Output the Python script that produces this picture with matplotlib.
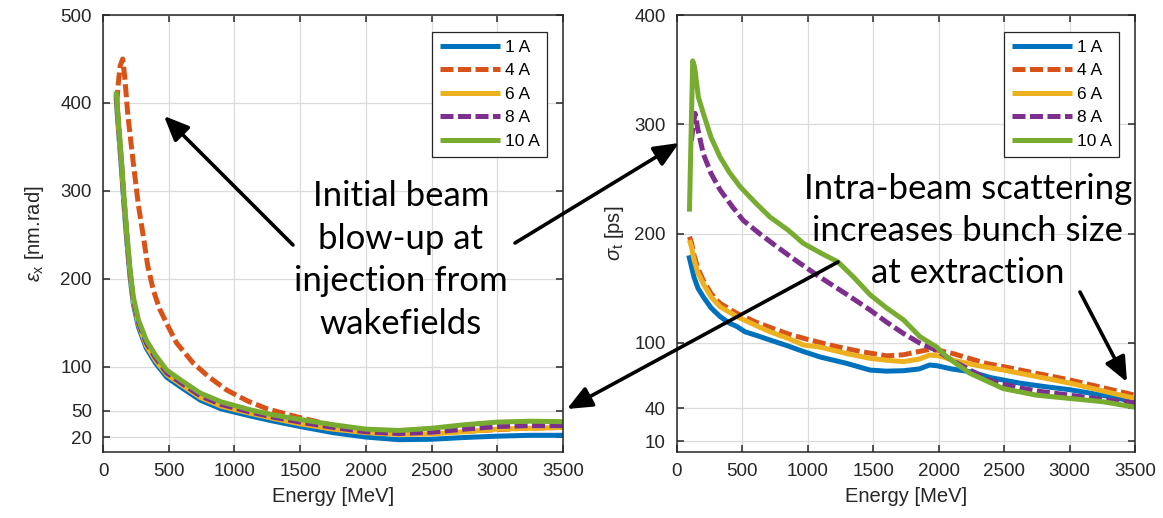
import matplotlib
matplotlib.use("Agg")
import matplotlib.pyplot as plt
from matplotlib.patches import FancyArrowPatch, ArrowStyle

plt.rcParams['font.family'] = ['Liberation Sans', 'DejaVu Sans']
plt.rcParams['mathtext.fontset'] = 'custom'
plt.rcParams['mathtext.rm'] = 'Liberation Sans'
plt.rcParams['mathtext.it'] = 'Liberation Sans:italic'

# beam currents and MATLAB default colours
labels = ['1 A', '4 A', '6 A', '8 A', '10 A']
colors = ['#0072BD', '#D95319', '#EDB120', '#7E2F8E', '#77AC30']
dashed = [False, True, False, True, False]

# horizontal emittance [nm.rad] vs energy [MeV]
em_E_1A = [100, 120, 142, 160, 180, 205, 230, 270, 330, 400, 485, 600, 740, 900, 1120, 1300,
           1500, 1750, 2000, 2250, 2500, 2750, 3000, 3250, 3500]
em_1A = [405, 365, 322, 283, 245, 203, 172, 145, 121, 104, 88, 76, 62, 52, 44, 38,
         32, 25, 20, 17, 17.5, 19.5, 21, 22, 22]
em_E_4A = [105, 115, 130, 150, 165, 190, 231, 270, 307, 340, 383, 430, 485, 560, 687, 800,
           941, 1100, 1250, 1474, 1700, 1930, 2200, 2436, 2700, 2945, 3200, 3500]
em_4A = [400, 420, 442, 450, 430, 385, 331, 283, 248, 215, 187, 166, 149, 127, 104, 89,
         73.5, 61, 52, 43, 35, 28, 25, 24.6, 26, 28, 30, 31]
em_E_6A = em_E_1A
em_6A = [408, 368, 326, 287, 249, 207, 175, 148, 124, 107, 91, 79, 65, 55, 47, 41,
         35, 29, 25, 23, 23.5, 26, 29, 30, 31]
em_E_8A = em_E_1A
em_8A = [410, 372, 329, 290, 252, 209, 177, 150, 127, 110, 93, 81, 67, 57, 48.5, 42.5,
         37, 31, 26, 24, 25.5, 29, 32, 33, 33]
em_E_10A = em_E_1A
em_10A = [413, 375, 332, 293, 255, 212, 180, 153, 130, 113, 96, 84, 70, 60, 51, 45,
          40, 34, 29, 27.5, 30, 34, 37, 38, 37.5]

# rms bunch length [ps] vs energy [MeV]
bl_E_1A = [90, 110, 130, 160, 201, 260, 329, 400, 456, 520, 600, 711, 850, 965, 1093, 1300,
           1475, 1600, 1729, 1850, 1930, 1985, 2100, 2239, 2400, 2621, 2800, 3003, 3250, 3500]
bl_1A = [180, 170, 160, 150, 142, 132, 124, 118, 115, 110, 107, 102.5, 97, 92, 87, 81,
         75, 74, 74.4, 76, 79.6, 79, 76, 73.5, 68, 63, 60, 57, 52, 46]
bl_E_4A = [95, 110, 130, 160, 201, 260, 329, 456, 600, 711, 850, 1000, 1200, 1400, 1602, 1730,
           1850, 1933, 2000, 2111, 2366, 2500, 2748, 3000, 3250, 3500]
bl_4A = [197, 192, 180, 168, 157, 145, 136, 127, 119, 114, 108, 103, 97, 92, 88, 89,
         92, 94, 93, 90, 81, 78, 72, 66, 59, 52]
bl_E_6A = [95, 110, 130, 160, 201, 260, 329, 456, 600, 711, 850, 965, 1093, 1300, 1475, 1600,
           1729, 1850, 1933, 2000, 2111, 2300, 2493, 2750, 3003, 3250, 3500]
bl_6A = [194, 188, 176, 164, 154, 142, 133, 124, 116, 110, 104, 98, 96, 90, 85.7, 84,
         82.7, 85, 88.8, 88, 84, 79, 75, 69, 63, 56, 49]
bl_E_8A = [110, 125, 138, 160, 201, 260, 329, 420, 506, 630, 762, 900, 1093, 1300, 1475, 1600,
           1729, 1850, 1985, 2100, 2239, 2400, 2621, 2800, 3003, 3250, 3500]
bl_8A = [285, 300, 310, 295, 273, 255, 240, 225, 212, 200, 188, 176, 160, 144, 130, 119,
         108.6, 100, 93, 84, 75, 65, 58.5, 55, 52, 48, 45]
bl_E_10A = [95, 120, 135, 163, 201, 260, 329, 400, 481, 600, 711, 850, 965, 1100, 1230, 1350,
            1475, 1600, 1730, 1857, 1985, 2061, 2239, 2494, 2748, 3003, 3256, 3500]
bl_10A = [220, 358, 352, 325, 310, 288, 270, 256, 243, 228, 215, 203, 191, 182, 174, 160,
          144, 132, 121, 105.5, 96, 87, 72, 58, 52, 49, 46, 41]

em_E = [em_E_1A, em_E_4A, em_E_6A, em_E_8A, em_E_10A]
em_v = [em_1A, em_4A, em_6A, em_8A, em_10A]
bl_E = [bl_E_1A, bl_E_4A, bl_E_6A, bl_E_8A, bl_E_10A]
bl_v = [bl_1A, bl_4A, bl_6A, bl_8A, bl_10A]

xticks = [0, 500, 1000, 1500, 2000, 2500, 3000, 3500]
em_yticks = [20, 50, 100, 200, 300, 400, 500]
bl_yticks = [10, 40, 100, 200, 300, 400]

W, H = 1163, 518
fig = plt.figure(figsize=(W / 100, H / 100), dpi=100)


def fx(x, y):
    return (x / W, 1 - y / H)


ax1 = fig.add_axes([103 / W, 1 - 452 / H, 460 / W, 437 / H])
ax2 = fig.add_axes([677 / W, 1 - 452 / H, 458 / W, 437 / H])

dark = '#262626'
for ax, Es, vs, yt, ylim, ylab, lx in [
        (ax1, em_E, em_v, em_yticks, (3, 500), r'$\epsilon_{\rm x}$ [nm.rad]', -0.124),
        (ax2, bl_E, bl_v, bl_yticks, (0, 400), r'$\sigma_{\rm t}$ [ps]', -0.111)]:
    for E, v, c, d, lab in zip(Es, vs, colors, dashed, labels):
        if d:
            ax.plot(E, v, color=c, lw=3.6, label=lab, dashes=(2.6, 0.9))
        else:
            ax.plot(E, v, color=c, lw=3.6, label=lab, solid_capstyle='butt')
    ax.set_xlim(0, 3500)
    ax.set_ylim(*ylim)
    ax.set_xticks(xticks)
    ax.set_yticks(yt)
    ax.grid(True, color='#dcdcdc', lw=0.9)
    ax.set_axisbelow(True)
    ax.tick_params(direction='in', top=True, right=True, length=5, width=1.1,
                   labelsize=13.5, colors=dark, pad=8)
    for s in ax.spines.values():
        s.set_color(dark)
        s.set_linewidth(1.1)
    ax.set_xlabel('Energy [MeV]', fontsize=14.5, color=dark)
    ax.xaxis.set_label_coords(0.5, -0.08)
    ax.set_ylabel(ylab, fontsize=14.5, color=dark)
    ax.yaxis.set_label_coords(lx, 0.5)
    leg = ax.legend(loc='upper right', bbox_to_anchor=(0.966, 0.961), borderaxespad=0,
                    fontsize=12.5, handlelength=3.5, frameon=True, fancybox=False,
                    framealpha=1, edgecolor=dark, borderpad=0.45, labelspacing=0.48,
                    handletextpad=0.25)
    leg.get_frame().set_linewidth(0.9)

# annotation text
note_font = ['Lato', 'DejaVu Sans']
fig.text(*fx(401, 260), 'Initial beam\nblow-up at\ninjection from\nwakefields',
         ha='center', va='center', fontsize=25, family=note_font, linespacing=1.4)
fig.text(*fx(968, 231), 'Intra-beam scattering\nincreases bunch size\nat extraction',
         ha='center', va='center', fontsize=25, family=note_font, linespacing=1.4)

# arrows
head = ArrowStyle('-|>', head_length=0.6, head_width=0.26)
for tail, tip in [((293, 245), (164, 116)),
                  ((515, 243), (679, 143)),
                  ((838, 262), (567, 409)),
                  ((1080, 292), (1127, 382))]:
    fig.add_artist(FancyArrowPatch(fx(*tail), fx(*tip), transform=fig.transFigure,
                                   arrowstyle=head, mutation_scale=25, lw=2.6,
                                   color='black', shrinkA=0, shrinkB=0))

fig.savefig('out.png', dpi=100)
